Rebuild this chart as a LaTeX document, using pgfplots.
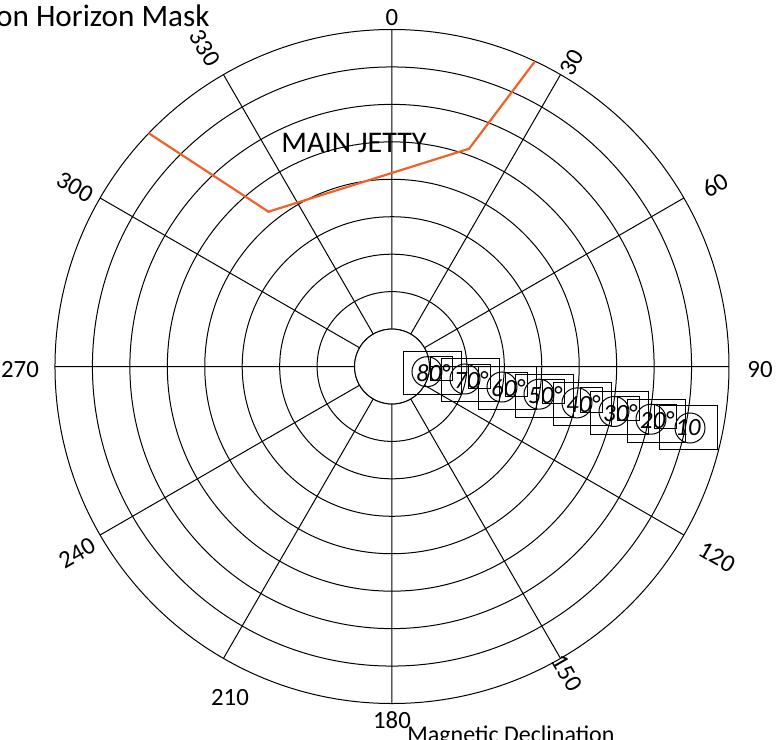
\documentclass[border=0pt]{standalone}
\usepackage{fontspec}
\setmainfont{Carlito}
\usepackage{pgfplots}
\usepackage{pgfplotstable}
\pgfplotsset{compat=1.18}
\usepgfplotslibrary{polar}
\definecolor{maskorange}{RGB}{240,98,40}
\pgfplotstableread{
az el
313.8 0
321.4 37.1
19.5 28.3
25.1 0
}\masktable
\begin{document}
\begin{tikzpicture}
\useasboundingbox (-196pt,-186.75pt) rectangle (193pt,183.25pt);
\clip (-196pt,-186.75pt) rectangle (193pt,183.25pt);
\begin{polaraxis}[
  at={(0pt,0pt)}, anchor=origin,
  scale only axis, width=337pt, height=337pt,
  xmin=0, xmax=360, ymin=0, ymax=90,
  xtick={0,30,...,330}, ytick={10,20,...,80},
  xticklabels={}, yticklabels={},
  major tick length=0pt,
  grid=major,
  major grid style={black, line width=0.5pt},
  axis line style={black, line width=0.5pt},
  clip=false,
]
\draw[black, fill=white, line width=0.5pt] (axis cs:0,0) circle[radius=18.72pt];
\addplot[maskorange, line width=1.1pt] table[x expr={90-\thisrow{az}}, y expr={90-\thisrow{el}}] {\masktable};
\end{polaraxis}
\begin{scope}[x=0.5pt, y=-0.5pt, shift={(-196pt,183.25pt)}]
  \tikzset{tl/.style={font=\fontsize{12.4}{14}\selectfont, inner sep=0pt}}
  \node[tl] at (392,18) {0};
  \node[tl, rotate=60] at (572,63) {30};
  \node[tl, rotate=30] at (715,185) {60};
  \node[tl] at (760,370) {90};
  \node[tl, rotate=-30] at (717,557) {120};
  \node[tl, rotate=-60] at (567,673) {150};
  \node[tl] at (392,720) {180};
  \node[tl] at (230,698) {210};
  \node[tl, rotate=30] at (77,553) {240};
  \node[tl] at (20,370) {270};
  \node[tl, rotate=-30] at (75,187) {300};
  \node[tl, rotate=-60] at (205,48) {330};
  \node[font=\fontsize{15.6}{18}\selectfont, anchor=base east, inner sep=0pt] at (210,27) {Obstruction Horizon Mask};
  \node[font=\fontsize{15}{18}\selectfont, inner sep=0pt] at (354,143) {MAIN JETTY};
  \node[font=\fontsize{12}{14}\selectfont, anchor=base west, inner sep=0pt] at (407,742) {Magnetic Declination};
  \foreach \lab/\cx/\cy in {80/433/373, 70/471/380.3, 60/508/388.3, 50/545/395.5, 40/583/404.2, 30/620/412.8, 20/657/420.5} {
    \draw[line width=0.5pt] (\cx-29,\cy-21.5) rectangle (\cx+29,\cy+21.5);
    \draw[line width=0.5pt] (\cx-6,\cy-1.3) circle[radius=7.5pt];
    \draw[line width=0.5pt] (\cx-2.3,\cy-16.3) rectangle (\cx+19.3,\cy+7.8);
    \node[tl] at (\cx,\cy) {\itshape\lab°};
  }
  \draw[line width=0.5pt] (660,405.5) rectangle (718,449.5);
  \draw[line width=0.5pt] (690,428) circle[radius=7.5pt];
  \node[tl] at (688,427.5) {\itshape 10};
\end{scope}
\end{tikzpicture}
\end{document}
